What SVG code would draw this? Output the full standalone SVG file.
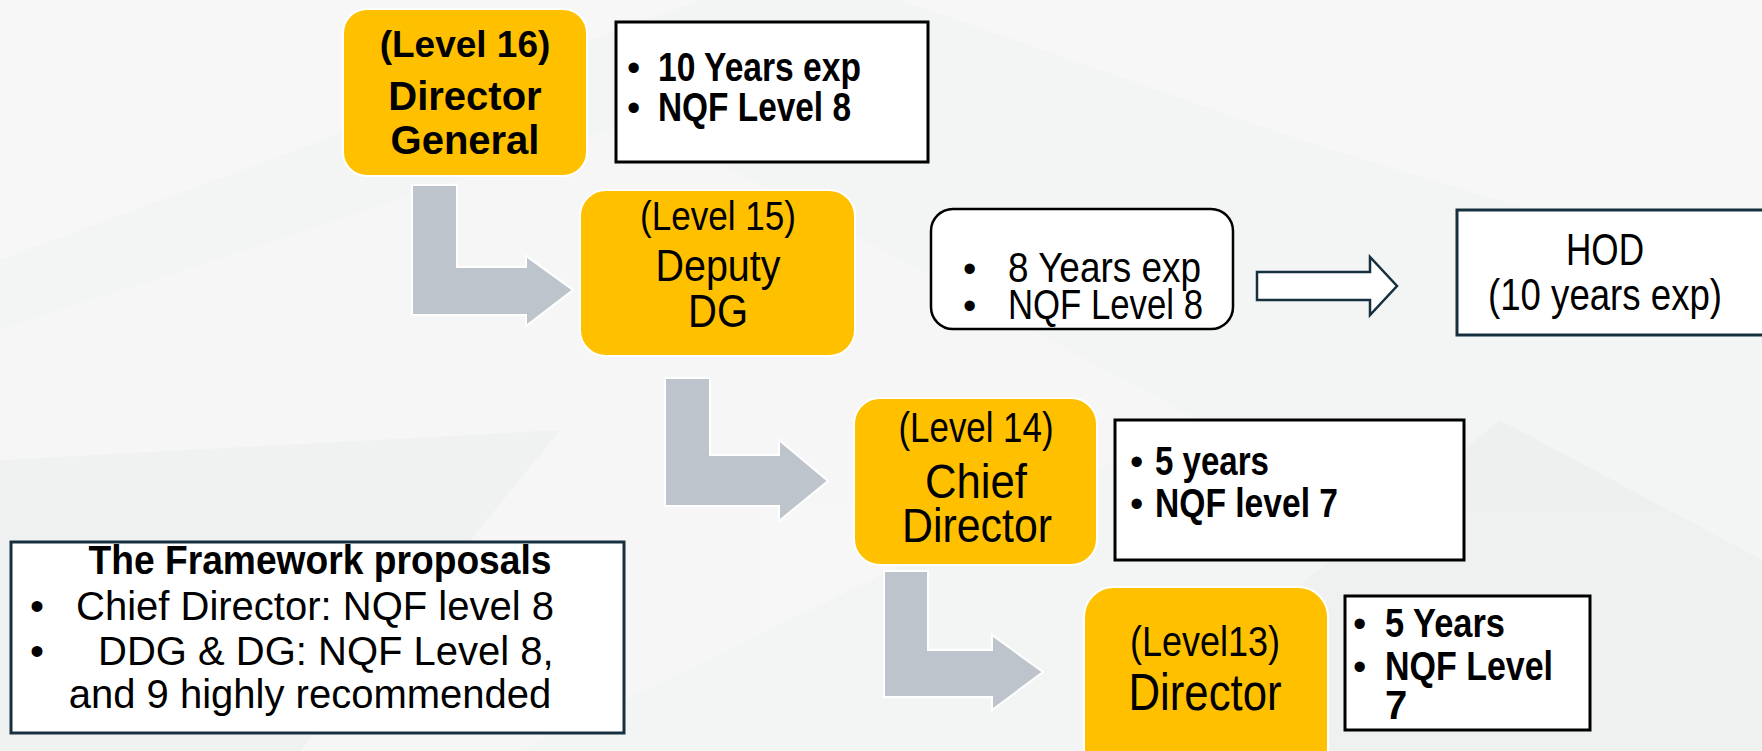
<svg xmlns="http://www.w3.org/2000/svg" width="1762" height="751" viewBox="0 0 1762 751">
<style>
.ybox{fill:#FFC000;stroke:#FFFFFF;stroke-width:2}
.wbox{fill:#FFFFFF;stroke:#000000;stroke-width:3}
.nbox{fill:#FFFFFF;stroke:#17303F;stroke-width:3}
.arr{fill:#BDC4CC;stroke:#FFFFFF;stroke-width:2}
.t{font-family:"Liberation Sans",Arial,sans-serif;fill:#000}
.b{font-weight:bold}
.c{text-anchor:middle}
</style>
<rect width="1762" height="751" fill="#F3F4F4"/>
<g id="background" opacity="0.8">
<polygon points="0,0 700,0 0,260" fill="#F8F8F8"/>
<polygon points="0,330 640,120 1200,420 520,751 0,751" fill="#F7F7F7"/>
<polygon points="900,0 1762,0 1762,280 1300,140" fill="#F8F8F8"/>
<polygon points="1100,751 1500,420 1762,560 1762,751" fill="#EEEFEF"/>
<polygon points="0,460 560,430 300,751 0,751" fill="#F0F1F1"/>
</g>
<g id="connectors">
<path class="arr" d="M412,185 H457 V267 H526 V256 L573,290 L526,326 V315 H412 Z"/>
<path class="arr" d="M665,378 H710 V455 H779 V440 L828,481 L779,521 V506 H665 Z"/>
<path class="arr" d="M884,571 H928 V650 H992 V635 L1043,672 L992,710 V697 H884 Z"/>
<path d="M1257,272 H1370 V257 L1397,286 L1370,315 V300 H1257 Z" fill="#FFFFFF" stroke="#17303F" stroke-width="2.5"/>
</g>
<g id="level16">
<rect class="ybox" x="343" y="9" width="244" height="167" rx="24"/>
<text class="t b c" x="465" y="57" font-size="37">(Level 16)</text>
<text class="t b c" x="465" y="110" font-size="40">Director</text>
<text class="t b c" x="465" y="154" font-size="40">General</text>
</g>
<g id="req16">
<rect class="wbox" x="616" y="22" width="312" height="140"/>
<text class="t" x="627" y="81" font-size="38">•</text>
<text class="t b" x="658" y="81" font-size="40" textLength="203" lengthAdjust="spacingAndGlyphs">10 Years exp</text>
<text class="t" x="627" y="121" font-size="38">•</text>
<text class="t b" x="658" y="121" font-size="40" textLength="193" lengthAdjust="spacingAndGlyphs">NQF Level 8</text>
</g>
<g id="level15">
<rect class="ybox" x="580" y="190" width="275" height="166" rx="26"/>
<text class="t c" x="718" y="230" font-size="40" textLength="156" lengthAdjust="spacingAndGlyphs">(Level 15)</text>
<text class="t c" x="718" y="281" font-size="44" textLength="125" lengthAdjust="spacingAndGlyphs">Deputy</text>
<text class="t c" x="718" y="327" font-size="46" textLength="60" lengthAdjust="spacingAndGlyphs">DG</text>
</g>
<g id="req15">
<rect x="931" y="209" width="302" height="120" rx="22" fill="#FFFFFF" stroke="#000" stroke-width="2.5"/>
<text class="t" x="963" y="282" font-size="38">•</text>
<text class="t" x="1008" y="282" font-size="42" textLength="193" lengthAdjust="spacingAndGlyphs">8 Years exp</text>
<text class="t" x="963" y="319" font-size="38">•</text>
<text class="t" x="1008" y="319" font-size="42" textLength="195" lengthAdjust="spacingAndGlyphs">NQF Level 8</text>
</g>
<g id="hod">
<rect class="nbox" x="1457" y="210" width="320" height="125"/>
<text class="t c" x="1605" y="265" font-size="44" textLength="78" lengthAdjust="spacingAndGlyphs">HOD</text>
<text class="t c" x="1605" y="310" font-size="44" textLength="234" lengthAdjust="spacingAndGlyphs">(10 years exp)</text>
</g>
<g id="level14">
<rect class="ybox" x="854" y="398" width="243" height="167" rx="26"/>
<text class="t c" x="976" y="442" font-size="42" textLength="155" lengthAdjust="spacingAndGlyphs">(Level 14)</text>
<text class="t c" x="976" y="498" font-size="48" textLength="102" lengthAdjust="spacingAndGlyphs">Chief</text>
<text class="t c" x="977" y="542" font-size="48" textLength="150" lengthAdjust="spacingAndGlyphs">Director</text>
</g>
<g id="req14">
<rect class="wbox" x="1115" y="420" width="349" height="140"/>
<text class="t" x="1130" y="475" font-size="38">•</text>
<text class="t b" x="1155" y="475" font-size="40" textLength="114" lengthAdjust="spacingAndGlyphs">5 years</text>
<text class="t" x="1130" y="517" font-size="38">•</text>
<text class="t b" x="1155" y="517" font-size="40" textLength="183" lengthAdjust="spacingAndGlyphs">NQF level 7</text>
</g>
<g id="level13">
<rect class="ybox" x="1084" y="587" width="244" height="190" rx="30"/>
<text class="t c" x="1205" y="656" font-size="42" textLength="150" lengthAdjust="spacingAndGlyphs">(Level13)</text>
<text class="t c" x="1205" y="710" font-size="52" textLength="153" lengthAdjust="spacingAndGlyphs">Director</text>
</g>
<g id="req13">
<rect class="wbox" x="1345" y="596" width="245" height="134"/>
<text class="t" x="1353" y="637" font-size="38">•</text>
<text class="t b" x="1385" y="637" font-size="40" textLength="120" lengthAdjust="spacingAndGlyphs">5 Years</text>
<text class="t" x="1353" y="680" font-size="38">•</text>
<text class="t b" x="1385" y="680" font-size="40" textLength="168" lengthAdjust="spacingAndGlyphs">NQF Level</text>
<text class="t b" x="1385" y="719" font-size="40">7</text>
</g>
<g id="framework">
<rect class="nbox" x="11" y="542" width="613" height="191"/>
<text class="t b c" x="320" y="574" font-size="40" textLength="463" lengthAdjust="spacingAndGlyphs">The Framework proposals</text>
<text class="t" x="30" y="620" font-size="40">•</text>
<text class="t" x="76" y="620" font-size="40">Chief Director: NQF level 8</text>
<text class="t" x="30" y="665" font-size="40">•</text>
<text class="t" x="98" y="665" font-size="40">DDG &amp; DG: NQF Level 8,</text>
<text class="t c" x="310" y="708" font-size="40">and 9 highly recommended</text>
</g>
</svg>
